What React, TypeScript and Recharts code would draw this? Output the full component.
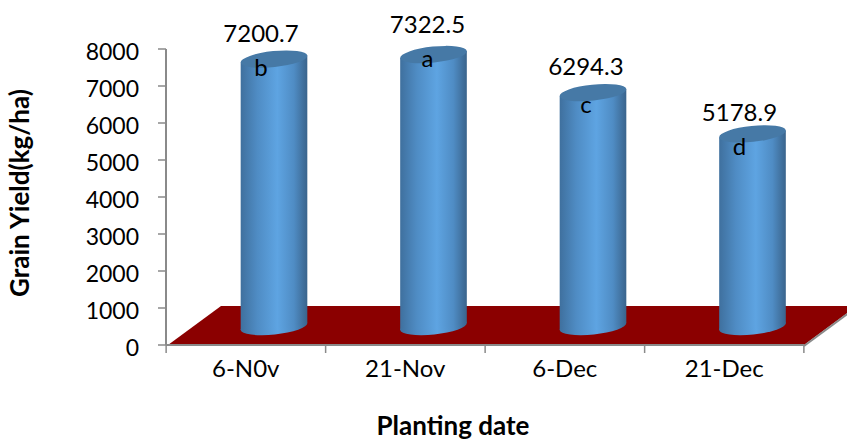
import React from 'react';
import { BarChart, Bar, XAxis, YAxis, ReferenceArea, LabelList } from 'recharts';

const dates = ['6-N0v', '21-Nov', '6-Dec', '21-Dec'];
const grainYield = [7200.7, 7322.5, 6294.3, 5178.9];
const groups = ['b', 'a', 'c', 'd'];
const yTicks = [0, 1000, 2000, 3000, 4000, 5000, 6000, 7000, 8000];

const rows = dates.map((date, i) => ({ date, grainYield: grainYield[i], group: groups[i] }));

// hand placement of the annotations above each cylinder
const labelShift = [-11, -4, -5, -11];
const valueLift = [37, 41, 37, 32];
const groupDrop = [-3, -7, 1, 2];

const FONT = 'Lato, sans-serif';
const AXIS_GREY = '#8a8a8a';

// 3D look: columns stand halfway back on the floor
const DEPTH_X = 53;
const DEPTH_Y = 39;
const FLOOR_VALUE = 1054;
const RY = 8;
const TILT = -6;

const Floor = ({ x, y, width, height }: any) => {
  const bottom = y + height;
  return (
    <g>
      <polygon
        points={`${x + 2},${bottom} ${x + width},${bottom} ${x + width + DEPTH_X},${y} ${x + DEPTH_X + 2},${y}`}
        fill="#8b0000"
      />
      <line x1={x + width} y1={bottom + 1} x2={x + width + DEPTH_X} y2={y + 1} stroke={AXIS_GREY} strokeWidth={2} />
    </g>
  );
};

const Cylinder = ({ x, y, width, height }: any) => {
  const rx = width / 2;
  const cx = x + rx + DEPTH_X / 2 + 2;
  const top = y - DEPTH_Y / 2;
  const base = y + height - DEPTH_Y / 2 + 1;
  const rad = (TILT * Math.PI) / 180;
  const ex = rx * Math.cos(rad);
  const ey = rx * Math.sin(rad);
  const side = `${cx - ex},${top - ey} ${cx - ex},${base - ey} ${cx + ex},${base + ey} ${cx + ex},${top + ey}`;
  return (
    <g>
      <ellipse cx={cx} cy={base} rx={rx} ry={RY} fill="url(#cylinderSide)" transform={`rotate(${TILT} ${cx} ${base})`} />
      <polygon points={side} fill="url(#cylinderSide)" />
      <ellipse cx={cx} cy={top} rx={rx} ry={RY} fill="#4679a6" transform={`rotate(${TILT} ${cx} ${top})`} />
    </g>
  );
};

const ValueLabel = ({ x, y, width, index, value }: any) => (
  <text
    x={x + width / 2 + DEPTH_X / 2 + labelShift[index]}
    y={y - valueLift[index]}
    textAnchor="middle"
    fontFamily={FONT}
    fontSize={24}
    fill="#000"
  >
    {value}
  </text>
);

const GroupLabel = ({ x, y, width, index, value }: any) => (
  <text
    x={x + width / 2 + DEPTH_X / 2 + labelShift[index]}
    y={y + groupDrop[index]}
    textAnchor="middle"
    fontFamily={FONT}
    fontSize={24}
    fill="#000"
  >
    {value}
  </text>
);

// category ticks sit on the band edges, the text stays centred in the band
const DateTick = ({ x, y, index, payload }: any) => {
  const band = 159.25;
  const left = x - band / 2;
  const axisY = 345;
  return (
    <g>
      <line x1={left} y1={axisY} x2={left} y2={axisY + 8} stroke={AXIS_GREY} strokeWidth={1.5} />
      {index === dates.length - 1 && (
        <line x1={left + band} y1={axisY} x2={left + band} y2={axisY + 8} stroke={AXIS_GREY} strokeWidth={1.5} />
      )}
      <text x={x} y={y + 24} textAnchor="middle" fontFamily={FONT} fontSize={24} fill="#000">
        {payload.value}
      </text>
    </g>
  );
};

export default function App() {
  return (
    <div style={{ position: 'absolute', left: 0, top: 0, width: 847, height: 440, background: '#fff' }}>
      <BarChart
        width={847}
        height={440}
        data={rows}
        barSize={67}
        margin={{ top: 49, right: 43, bottom: 25, left: 96 }}
      >
        <defs>
          <linearGradient id="cylinderSide" x1="0" y1="0" x2="1" y2="0">
            <stop offset="0%" stopColor="#3f709e" />
            <stop offset="25%" stopColor="#4f8cc4" />
            <stop offset="55%" stopColor="#5ea4e2" />
            <stop offset="80%" stopColor="#4f8cc4" />
            <stop offset="100%" stopColor="#3a648c" />
          </linearGradient>
        </defs>
        <XAxis
          dataKey="date"
          height={70}
          interval={0}
          tickLine={false}
          axisLine={{ stroke: AXIS_GREY, strokeWidth: 2 }}
          tick={<DateTick />}
          label={{
            value: 'Planting date',
            position: 'insideBottom',
            offset: 0,
            dx: -32,
            dy: 20,
            fontFamily: FONT,
            fontWeight: 700,
            fontSize: 26,
            fill: '#000',
          }}
        />
        <YAxis
          width={70}
          domain={[0, 8000]}
          ticks={yTicks}
          interval={0}
          tickSize={8}
          tickMargin={19}
          tickLine={{ stroke: AXIS_GREY, strokeWidth: 1.5 }}
          axisLine={{ stroke: AXIS_GREY, strokeWidth: 2 }}
          tick={{ fontFamily: FONT, fontSize: 23, fill: '#000', dy: 3 }}
          label={{
            value: 'Grain Yield(kg/ha)',
            angle: -90,
            position: 'insideLeft',
            offset: 0,
            dx: -76,
            dy: 100,
            fontFamily: FONT,
            fontWeight: 700,
            fontSize: 26,
            fill: '#000',
          }}
        />
        <ReferenceArea y1={0} y2={FLOOR_VALUE} shape={<Floor />} ifOverflow="visible" />
        <Bar dataKey="grainYield" shape={<Cylinder />} isAnimationActive={false}>
          <LabelList dataKey="grainYield" content={<ValueLabel />} />
          <LabelList dataKey="group" content={<GroupLabel />} />
        </Bar>
      </BarChart>
    </div>
  );
}
